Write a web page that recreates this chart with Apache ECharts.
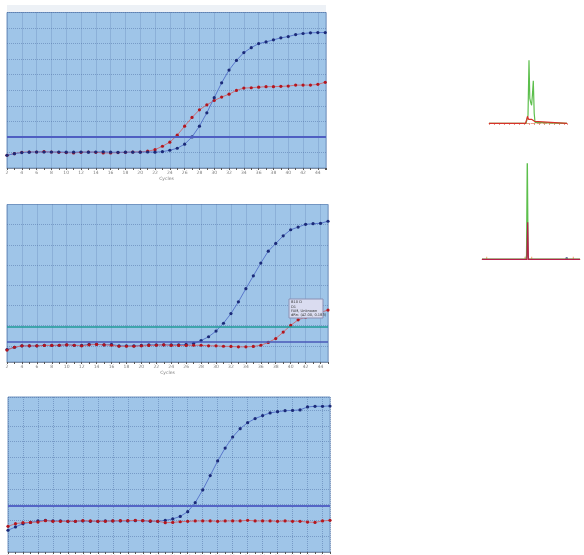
<!DOCTYPE html>
<html><head><meta charset="utf-8">
<script src="https://cdn.jsdelivr.net/npm/echarts@6/dist/echarts.min.js"></script>
<style>html,body{margin:0;padding:0;background:#fff}#c{width:584px;height:555px}</style>
</head><body><div id="c"></div>
<script>
// ---- data ----
const cycles = [2,3,4,5,6,7,8,9,10,11,12,13,14,15,16,17,18,19,20,21,22,23,24,25,26,27,28,29,30,31,32,33,34,35,36,37,38,39,40,41,42,43,44,45];

const p1Blue = [0.82,0.92,0.99,1.02,1.03,1.03,1.03,1.03,1.02,1.02,1.03,1.02,1.03,1.04,1.02,1.01,1.02,1.02,1.02,1.03,1.02,1.05,1.14,1.27,1.53,2.0,2.69,3.55,4.52,5.48,6.3,6.92,7.42,7.74,8.0,8.11,8.24,8.37,8.45,8.58,8.65,8.69,8.71,8.71];
const p1Red  = [0.82,0.92,1.01,1.03,1.03,1.05,1.03,1.01,0.99,0.97,1.01,1.03,1.01,0.97,0.97,0.99,1.01,1.03,1.03,1.08,1.18,1.40,1.66,2.11,2.69,3.25,3.74,4.06,4.34,4.56,4.75,4.99,5.14,5.16,5.20,5.23,5.23,5.25,5.27,5.33,5.33,5.33,5.38,5.51];
const p1Threshold = [2.04];

const p2Blue = [0.82,0.93,1.0,1.0,1.0,1.03,1.02,1.03,1.05,1.03,1.02,1.08,1.08,1.05,1.07,1.0,1.0,1.0,1.02,1.05,1.05,1.05,1.05,1.05,1.07,1.12,1.26,1.45,1.73,2.12,2.60,3.18,3.83,4.47,5.10,5.69,6.07,6.45,6.75,6.88,7.02,7.05,7.07,7.17];
const p2Red  = [0.79,0.93,1.0,1.0,1.0,1.02,1.02,1.03,1.05,1.03,1.0,1.05,1.07,1.05,1.03,0.98,0.98,0.98,1.0,1.02,1.03,1.05,1.02,1.02,1.02,1.03,1.03,1.0,1.0,0.98,0.97,0.95,0.95,0.97,1.03,1.17,1.36,1.68,2.01,2.29,2.42,2.55,2.66,2.77];
const p2ThresholdTeal = [1.94];
const p2ThresholdBlue = [1.18];
const p2GridValues = [1,2,3,4,5,6,7];

const p3Blue = [1.38,1.59,1.80,1.88,1.97,2.01,1.97,1.97,1.95,1.95,1.97,1.95,1.95,1.97,1.97,1.97,1.97,1.99,1.99,1.95,1.95,2.01,2.10,2.26,2.56,3.13,3.94,4.85,5.78,6.60,7.30,7.83,8.21,8.47,8.66,8.83,8.91,8.97,8.99,9.02,9.21,9.25,9.25,9.27];
const p3Red  = [1.63,1.80,1.86,1.88,1.90,1.99,1.95,1.95,1.95,1.95,1.99,1.97,1.95,1.95,1.97,1.99,1.99,2.01,1.99,1.97,1.95,1.86,1.88,1.92,1.95,1.97,1.97,1.97,1.95,1.97,1.97,1.97,2.01,1.97,1.97,1.97,1.95,1.97,1.95,1.95,1.90,1.88,1.97,2.01];
const p3Threshold = [2.96];

const tooltipLines = ['B10 D', 'D1', 'FAM, Unknown', 'dRn: (42.00, 0.183)'];

// melt-peak style mini charts (x position, height)
const peakAGreenX = [0,37,38,39,40,40.8,41.7,42.6,43.4,44.3,45.2,46,47,78];
const peakAGreenY = [0,0,2,8,63,25,21,18,28,42.6,10,1,0,0];
const peakARedX   = [0,36.5,37.5,38.5,39.5,40.5,41.5,42.5,43.5,44.5,45.5,46.5,78];
const peakARedY   = [0,0,3,7,4,6,3,4,6,5,2,0,0];
const peakBGreenX = [0,44,44.6,45.3,46,46.6,98];
const peakBGreenY = [0,0,4,96,4,0,0];
const peakBRedX   = [0,44.9,45.7,46.4,98];
const peakBRedY   = [0,0,37,0,0];
const peakBMarkX  = [4.7,43,49.7,91.3];
const peakBBlueX  = [84.7];

// ---- chart ----
const BG = '#9fc5e8', GRIDC = 'rgba(70,105,160,0.45)';
const blueLine = '#5a78cc', bluePt = '#1b2a78', redLine = '#c9707a', redPt = '#b3161e';
const pair = (xs, ys) => xs.map((x, i) => [x, ys[i]]);

const grids = [
  {left:7, top:12.5, right:258, bottom:387},
  {left:7, top:204.5, right:256, bottom:193},
  {left:8, top:397, right:254, bottom:3},
  {left:489, top:55.3, right:17, bottom:431.7},
  {left:482, top:155, right:4, bottom:295.7}
];
grids.forEach((g, i) => {
  g.containLabel = false;
  g.outerBoundsMode = 'none';
  if (i < 3) { g.show = true; g.backgroundColor = BG; g.borderColor = '#7396c2'; g.borderWidth = 1; }
});

function cycAxis(gi, max) {
  return {
    type:'value', gridIndex:gi, min:2, max:max, interval:2,
    axisLine:{show:true, lineStyle:{color:'#7f8fa6', width:1}},
    axisTick:{show:true, length:2, lineStyle:{color:'#555'}},
    minorTick:{show:true, splitNumber:2, length:2, lineStyle:{color:'#555'}},
    axisLabel:{fontSize:4.5, color:'#808080', margin:2, showMaxLabel:false, fontFamily:'DejaVu Sans'},
    splitLine:{show:true, lineStyle:{type:'dotted', color:GRIDC, width:1}},
    name:'Cycles', nameLocation:'middle', nameGap:8,
    nameTextStyle:{fontSize:4.5, color:'#808080', fontFamily:'DejaVu Sans'}
  };
}
function valAxis(gi, min, max, split) {
  return {
    type:'value', gridIndex:gi, min:min, max:max, interval: split ? 1 : undefined,
    axisLine:{show:false}, axisTick:{show:false}, axisLabel:{show:false},
    splitLine:{show:!!split, lineStyle:{type:'dotted', color:GRIDC, width:1}}
  };
}

const xAxes = [cycAxis(0,45.1), cycAxis(1,45), cycAxis(2,45)];
const yAxes = [valAxis(0,0,10,true), valAxis(1,0.2,8,false), valAxis(2,0,9.84,true)];
// peak mini charts
xAxes.push({type:'value', gridIndex:3, min:0, max:78, axisLine:{show:true, lineStyle:{color:'#f2a08a', type:'dashed', width:1}}, axisTick:{show:true, length:1.5, lineStyle:{color:'#e07a70'}}, splitNumber:12, axisLabel:{show:false}, splitLine:{show:false}});
xAxes.push({type:'value', gridIndex:4, min:0, max:98, axisLine:{show:true, lineStyle:{color:'#f2a08a', type:'dashed', width:1}}, axisTick:{show:false}, axisLabel:{show:false}, splitLine:{show:false}});
yAxes.push({type:'value', gridIndex:3, min:0, max:68, show:false});
yAxes.push({type:'value', gridIndex:4, min:0, max:104.3, show:false});

function curve(gi, ys, lc, pc) {
  return {type:'line', xAxisIndex:gi, yAxisIndex:gi, data:pair(cycles, ys), symbol:'circle', symbolSize:3.2,
    lineStyle:{color:lc, width:1}, itemStyle:{color:pc}, z:3, silent:true, animation:false};
}
function hline(gi, vals, color, width, z, type) {
  return {type:'line', xAxisIndex:gi, yAxisIndex:gi, data:[], silent:true, animation:false,
    markLine:{symbol:'none', silent:true, z:z, animation:false, label:{show:false},
      lineStyle:{color:color, width:width, type:type || 'solid'},
      data: vals.map(v => ({yAxis:v}))}};
}

const series = [
  hline(1, p2GridValues, GRIDC, 1, 1, 'dotted'),
  curve(0, p1Red, redLine, redPt),
  curve(0, p1Blue, blueLine, bluePt),
  hline(0, p1Threshold, '#4f5fc2', 2, 6),
  curve(1, p2Blue, blueLine, bluePt),
  curve(1, p2Red, redLine, redPt),
  hline(1, p2ThresholdTeal, '#1f9a98', 1.5, 6),
  hline(1, p2ThresholdBlue, '#4a58b8', 1.5, 6),
  curve(2, p3Blue, blueLine, bluePt),
  curve(2, p3Red, redLine, redPt),
  hline(2, p3Threshold, '#5465c6', 2, 6),
  {type:'line', xAxisIndex:3, yAxisIndex:3, data:pair(peakARedX, peakARedY), symbol:'none', lineStyle:{color:'#d8322a', width:1.2}, z:4, animation:false},
  {type:'line', xAxisIndex:3, yAxisIndex:3, data:pair(peakAGreenX, peakAGreenY), symbol:'none', lineStyle:{color:'#5cbf4c', width:1.2}, z:3, animation:false},
  {type:'line', xAxisIndex:4, yAxisIndex:4, data:pair(peakBGreenX, peakBGreenY), symbol:'none', lineStyle:{color:'#5cbf4c', width:1.4}, z:3, animation:false},
  {type:'line', xAxisIndex:4, yAxisIndex:4, data:pair(peakBRedX, peakBRedY), symbol:'none', lineStyle:{color:'#b51f4a', width:1.2}, z:4, animation:false},
  {type:'scatter', xAxisIndex:4, yAxisIndex:4, data:peakBMarkX.map(x => [x, 1]), symbol:'rect', symbolSize:[1,3], itemStyle:{color:'#f0904a'}, animation:false},
  {type:'scatter', xAxisIndex:4, yAxisIndex:4, data:peakBBlueX.map(x => [x, 1]), symbol:'circle', symbolSize:2.5, itemStyle:{color:'#3a4a8a'}, animation:false}
];

const tipTop = 299, tipLeft = 289;
const option = {
  animation:false,
  grid: grids, xAxis: xAxes, yAxis: yAxes, series: series,
  graphic: [
    {type:'rect', shape:{x:7, y:5, width:319, height:7}, style:{fill:'#edf1f6'}, z:0, silent:true},
    {type:'rect', shape:{x:tipLeft, y:tipTop, width:34, height:19}, style:{fill:'#dadcf0', stroke:'#8a90b4', lineWidth:1}, z:20},
    {type:'text', x:tipLeft+2, y:tipTop+1.5, z:21, style:{text: tooltipLines.join('\n'), fontSize:3.6, lineHeight:4.1, fill:'#333', fontFamily:'DejaVu Sans'}}
  ]
};
const chart = echarts.init(document.getElementById('c'), null, {renderer:'canvas'});
chart.setOption(option);
</script>
</body></html>
